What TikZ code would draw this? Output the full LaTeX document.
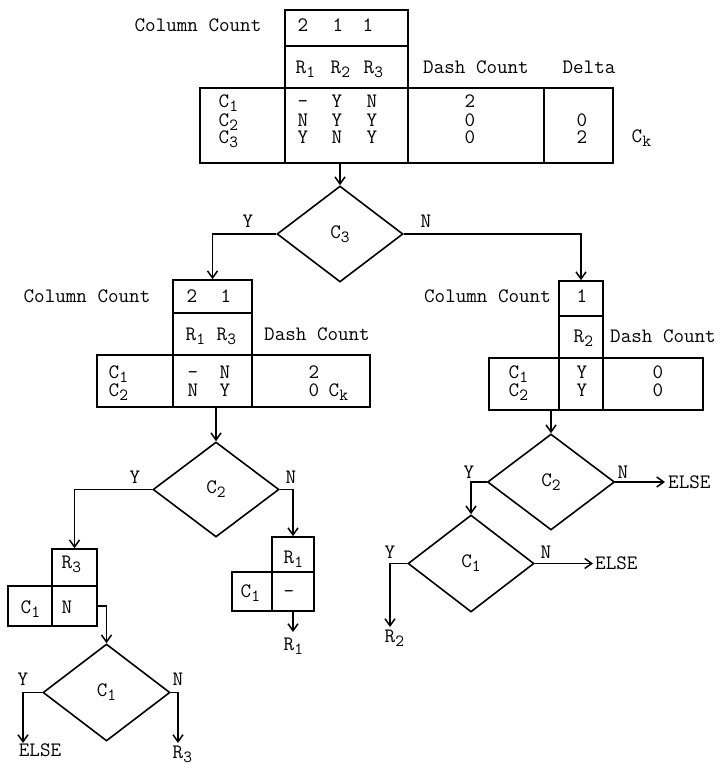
\documentclass[tikz,border=0pt]{standalone}
\usepackage{fontspec}
\usetikzlibrary{shapes.geometric,arrows.meta}
\newcommand\sbs[1]{\raisebox{-4pt}{\fontsize{17}{17}\selectfont #1}}
\begin{document}
\begin{tikzpicture}[x=1pt,y=-1pt,
  font=\ttfamily\fontsize{20.5}{24}\selectfont,
  cellbox/.style={draw,line width=1.6pt,inner sep=0pt},
  dia/.style={draw,diamond,line width=1.6pt,inner sep=0pt},
  txt/.style={inner sep=0pt,anchor=base},
  txw/.style={inner sep=0pt,anchor=base west},
  arr/.style={line width=1.6pt,-{Straight Barb[length=7pt,width=10pt,line width=1.5pt]}}]
\useasboundingbox (0,0) rectangle (720,770);
\fill[white] (0,0) rectangle (720,770);

% ---------- top table ----------
\node[cellbox,minimum width=123pt,minimum height=36pt] (tcc) at (346.5,28) {};
\node[cellbox,minimum width=123pt,minimum height=42pt] (trr) at (346.5,67) {};
\node[cellbox,minimum width=85pt,minimum height=75pt] (tc) at (242.5,125.5) {};
\node[cellbox,minimum width=123pt,minimum height=75pt] (ty) at (346.5,125.5) {};
\node[cellbox,minimum width=136pt,minimum height=75pt] (td) at (476,125.5) {};
\node[cellbox,minimum width=69pt,minimum height=75pt] (tde) at (578.5,125.5) {};

\node[txt] (tcclab) at (198,32) {Column Count};
\node[txt] (tn1) at (303,32) {2};
\node[txt] (tn2) at (338,32) {1};
\node[txt] (tn3) at (368,32) {1};
\node[txw] (tr1) at (295.5,74) {R\sbs{1}};
\node[txw] (tr2) at (330.5,74) {R\sbs{2}};
\node[txw] (tr3) at (363.5,74) {R\sbs{3}};
\node[txt] (tdash) at (476,74) {Dash Count};
\node[txt] (tdelta) at (589,74) {Delta};
\node[txw] (tcl1) at (218.5,108) {C\sbs{1}};
\node[txw] (tcl2) at (218.5,127) {C\sbs{2}};
\node[txw] (tcl3) at (218.5,144) {C\sbs{3}};
\node[txt] (ta11) at (303,108) {-};
\node[txt] (ta12) at (337,108) {Y};
\node[txt] (ta13) at (372,108) {N};
\node[txt] (ta21) at (303,127) {N};
\node[txt] (ta22) at (337,127) {Y};
\node[txt] (ta23) at (372,127) {Y};
\node[txt] (ta31) at (303,144) {Y};
\node[txt] (ta32) at (337,144) {N};
\node[txt] (ta33) at (372,144) {Y};
\node[txt] (tdc1) at (470,108) {2};
\node[txt] (tdc2) at (470,127) {0};
\node[txt] (tdc3) at (470,144) {0};
\node[txt] (tdl2) at (582,127) {0};
\node[txt] (tdl3) at (582,144) {2};
\node[txw] (tck) at (631.5,143) {C\sbs{k}};

% ---------- C3 decision ----------
\node[dia,minimum width=126pt,minimum height=96pt] (d3) at (340,234) {C\sbs{3}};
\node[txt] (d3y) at (248,227) {Y};
\node[txt] (d3n) at (426,227) {N};

% ---------- left table ----------
\node[cellbox,minimum width=79pt,minimum height=33pt] (lcc) at (212.5,296.5) {};
\node[cellbox,minimum width=79pt,minimum height=42pt] (lrr) at (212.5,334) {};
\node[cellbox,minimum width=76pt,minimum height=52pt] (lc) at (135,381) {};
\node[cellbox,minimum width=79pt,minimum height=52pt] (ly) at (212.5,381) {};
\node[cellbox,minimum width=118pt,minimum height=52pt] (ld) at (311,381) {};

\node[txt] (lcclab) at (87,302) {Column Count};
\node[txt] (ln1) at (192,302) {2};
\node[txt] (ln2) at (226,302) {1};
\node[txw] (lr1t) at (185.5,340) {R\sbs{1}};
\node[txw] (lr3t) at (216.5,340) {R\sbs{3}};
\node[txt] (ldash) at (317,340) {Dash Count};
\node[txw] (lcl1) at (108.5,378) {C\sbs{1}};
\node[txw] (lcl2) at (108.5,396) {C\sbs{2}};
\node[txt] (la11) at (193,378) {-};
\node[txt] (la12) at (225,378) {N};
\node[txt] (la21) at (193,396) {N};
\node[txt] (la22) at (225,396) {Y};
\node[txt] (ldc1) at (314,378) {2};
\node[txt] (ldc2) at (314,396) {0};
\node[txw] (lck) at (328.5,396) {C\sbs{k}};

% ---------- right table ----------
\node[cellbox,minimum width=44pt,minimum height=35pt] (rcc) at (581,298.5) {};
\node[cellbox,minimum width=44pt,minimum height=42pt] (rrr) at (581,337) {};
\node[cellbox,minimum width=70pt,minimum height=52pt] (rc) at (524,384) {};
\node[cellbox,minimum width=44pt,minimum height=52pt] (ry) at (581,384) {};
\node[cellbox,minimum width=100pt,minimum height=52pt] (rd) at (653,384) {};

\node[txt] (rcclab) at (487.5,302) {Column Count};
\node[txt] (rn1) at (582,302) {1};
\node[txw] (rr2t) at (573.5,342) {R\sbs{2}};
\node[txt] (rdash) at (663,342) {Dash Count};
\node[txw] (rcl1) at (508.5,378) {C\sbs{1}};
\node[txw] (rcl2) at (508.5,396) {C\sbs{2}};
\node[txt] (ra1) at (582,378) {Y};
\node[txt] (ra2) at (582,396) {Y};
\node[txt] (rdc1) at (658,378) {0};
\node[txt] (rdc2) at (658,396) {0};

% ---------- left lower ----------
\node[dia,minimum width=126pt,minimum height=95pt] (dl2) at (216,489.5) {C\sbs{2}};
\node[txt] (dl2y) at (135,483) {Y};
\node[txt] (dl2n) at (291,483) {N};

\node[cellbox,minimum width=45pt,minimum height=37pt] (lr3) at (74.5,567.5) {};
\node[cellbox,minimum width=44pt,minimum height=40pt] (lcx) at (30,606) {};
\node[cellbox,minimum width=45pt,minimum height=40pt] (lnx) at (74.5,606) {};
\node[txw] (lr3lab) at (61.5,568) {R\sbs{3}};
\node[txw] (lcxlab) at (20.5,613) {C\sbs{1}};
\node[txt] (lnxlab) at (67,613) {N};

\node[cellbox,minimum width=42pt,minimum height=35pt] (lr1) at (293,554.5) {};
\node[cellbox,minimum width=40pt,minimum height=39pt] (lcy) at (252,591.5) {};
\node[cellbox,minimum width=42pt,minimum height=39pt] (lmy) at (293,591.5) {};
\node[txw] (lr1lab) at (283.5,563) {R\sbs{1}};
\node[txw] (lcylab) at (240.5,597) {C\sbs{1}};
\node[txt] (lmylab) at (289,597) {-};

\node[dia,minimum width=127pt,minimum height=97pt] (dl1) at (106.5,692.5) {C\sbs{1}};
\node[txt] (dl1y) at (23,685) {Y};
\node[txt] (dl1n) at (178,685) {N};
\coordinate (eL) at (23,743);
\coordinate (r3e) at (178,743);
\coordinate (r1e) at (293,632);
\node[txt] (elseL) at (40,756) {ELSE};
\node[txw] (r3lab) at (172.5,758) {R\sbs{3}};
\node[txw] (r1lab) at (283.5,650) {R\sbs{1}};

% ---------- right lower ----------
\node[dia,minimum width=127pt,minimum height=96pt] (dr2) at (551,482) {C\sbs{2}};
\node[txt] (dr2y) at (469,478) {Y};
\node[txt] (dr2n) at (623,478) {N};
\node[inner sep=3pt,anchor=west] (else1) at (665,482) {ELSE};
\node[dia,minimum width=126pt,minimum height=97pt] (dr1) at (471,563.5) {C\sbs{1}};
\node[txt] (dr1y) at (390,558) {Y};
\node[txt] (dr1n) at (546,558) {N};
\node[inner sep=2pt,anchor=west] (else2) at (593,563.5) {ELSE};
\coordinate (r2e) at (390,627);
\node[txw] (r2lab) at (384.5,642) {R\sbs{2}};

% ---------- connectors ----------
\draw[arr] (d3.north |- ty.south) -- (d3.north);
\draw[arr] (d3.west) -| (lcc.north);
\draw[arr] (d3.east) -| (rcc.north);
\draw[arr] (dl2.north |- ly.south) -- (dl2.north);
\draw[arr] (dl2.west) -| (lr3.north);
\draw[arr] (dl2.east) -| (lr1.north);
\draw[arr] (lnx.east) -| (dl1.north);
\draw[arr] (dl1.west) -| (eL);
\draw[arr] (dl1.east) -| (r3e);
\draw[arr] (lmy.south) -- (r1e);
\draw[arr] (dr2.north |- rc.south) -- (dr2.north);
\draw[arr] (dr2.east) -- (else1.west);
\draw[arr] (dr2.west) -| (dr1.north);
\draw[arr] (dr1.east) -- (else2.west);
\draw[arr] (dr1.west) -| (r2e);
\end{tikzpicture}
\end{document}
